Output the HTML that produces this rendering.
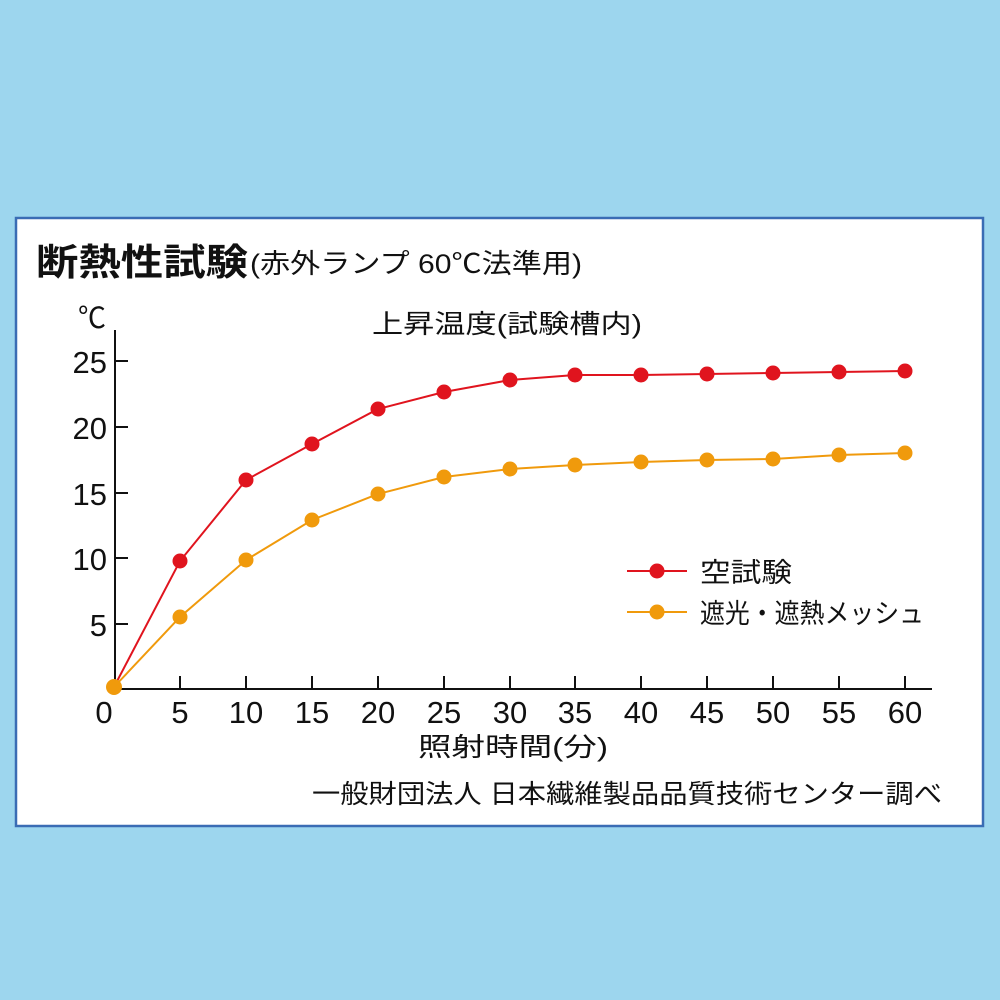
<!DOCTYPE html>
<html><head><meta charset="utf-8"><style>
html,body{margin:0;padding:0;background:#9dd6ee;}
svg{display:block}
text{font-family:"Liberation Sans","Noto Sans CJK JP",sans-serif;fill:#111}
</style></head><body>
<svg width="1000" height="1000" viewBox="0 0 1000 1000">
<rect width="1000" height="1000" fill="#9dd6ee"/>
<rect x="16" y="218" width="967" height="608" fill="#fff" stroke="#3a6cb4" stroke-width="2.5"/>
<text x="36" y="275" font-size="37" font-weight="bold" textLength="212" lengthAdjust="spacingAndGlyphs">断熱性試験</text>
<text x="250" y="273" font-size="27" textLength="332" lengthAdjust="spacingAndGlyphs">(赤外ランプ 60℃法準用)</text>
<text x="372" y="333" font-size="26" textLength="270" lengthAdjust="spacingAndGlyphs">上昇温度(試験槽内)</text>
<text x="78" y="328" font-size="29" textLength="28" lengthAdjust="spacingAndGlyphs">℃</text>
<g stroke="#111" stroke-width="2" fill="none">
<path d="M115 330 V689 H932"/>
<path d="M115 361h13M115 427h13M115 493h13M115 558h13M115 624h13"/>
<path d="M180 689v-13M246 689v-13M312 689v-13M378 689v-13M444 689v-13M510 689v-13M575 689v-13M641 689v-13M707 689v-13M773 689v-13M839 689v-13M905 689v-13"/>
</g>
<g font-size="31" text-anchor="end">
<text x="107" y="373">25</text><text x="107" y="439">20</text><text x="107" y="505">15</text><text x="107" y="570">10</text><text x="107" y="636">5</text>
</g>
<g font-size="31" text-anchor="middle">
<text x="104" y="723">0</text><text x="180" y="723">5</text><text x="246" y="723">10</text><text x="312" y="723">15</text><text x="378" y="723">20</text><text x="444" y="723">25</text><text x="510" y="723">30</text><text x="575" y="723">35</text><text x="641" y="723">40</text><text x="707" y="723">45</text><text x="773" y="723">50</text><text x="839" y="723">55</text><text x="905" y="723">60</text>
</g>
<text x="418" y="756" font-size="26" textLength="190" lengthAdjust="spacingAndGlyphs">照射時間(分)</text>
<text x="312" y="803" font-size="26" textLength="630" lengthAdjust="spacingAndGlyphs">一般財団法人 日本繊維製品品質技術センター調べ</text>
<polyline fill="none" stroke="#e0141e" stroke-width="2" points="114,687 180,561 246,480 312,444 378,409 444,392 510,380 575,375 641,375 707,374 773,373 839,372 905,371"/>
<polyline fill="none" stroke="#f09a0c" stroke-width="2" points="114,687 180,617 246,560 312,520 378,494 444,477 510,469 575,465 641,462 707,460 773,459 839,455 905,453"/>
<g fill="#e0141e">
<circle cx="180" cy="561" r="7.5"/><circle cx="246" cy="480" r="7.5"/><circle cx="312" cy="444" r="7.5"/><circle cx="378" cy="409" r="7.5"/><circle cx="444" cy="392" r="7.5"/><circle cx="510" cy="380" r="7.5"/><circle cx="575" cy="375" r="7.5"/><circle cx="641" cy="375" r="7.5"/><circle cx="707" cy="374" r="7.5"/><circle cx="773" cy="373" r="7.5"/><circle cx="839" cy="372" r="7.5"/><circle cx="905" cy="371" r="7.5"/>
</g>
<g fill="#f09a0c">
<circle cx="114" cy="687" r="8"/><circle cx="180" cy="617" r="7.5"/><circle cx="246" cy="560" r="7.5"/><circle cx="312" cy="520" r="7.5"/><circle cx="378" cy="494" r="7.5"/><circle cx="444" cy="477" r="7.5"/><circle cx="510" cy="469" r="7.5"/><circle cx="575" cy="465" r="7.5"/><circle cx="641" cy="462" r="7.5"/><circle cx="707" cy="460" r="7.5"/><circle cx="773" cy="459" r="7.5"/><circle cx="839" cy="455" r="7.5"/><circle cx="905" cy="453" r="7.5"/>
</g>
<line x1="627" y1="571" x2="687" y2="571" stroke="#e0141e" stroke-width="2"/>
<circle cx="657" cy="571" r="7.5" fill="#e0141e"/>
<line x1="627" y1="612" x2="687" y2="612" stroke="#f09a0c" stroke-width="2"/>
<circle cx="657" cy="612" r="7.5" fill="#f09a0c"/>
<text x="700" y="582" font-size="27" textLength="92" lengthAdjust="spacingAndGlyphs">空試験</text>
<text x="700" y="623" font-size="27" textLength="224" lengthAdjust="spacingAndGlyphs">遮光・遮熱メッシュ</text>
</svg>
</body></html>
